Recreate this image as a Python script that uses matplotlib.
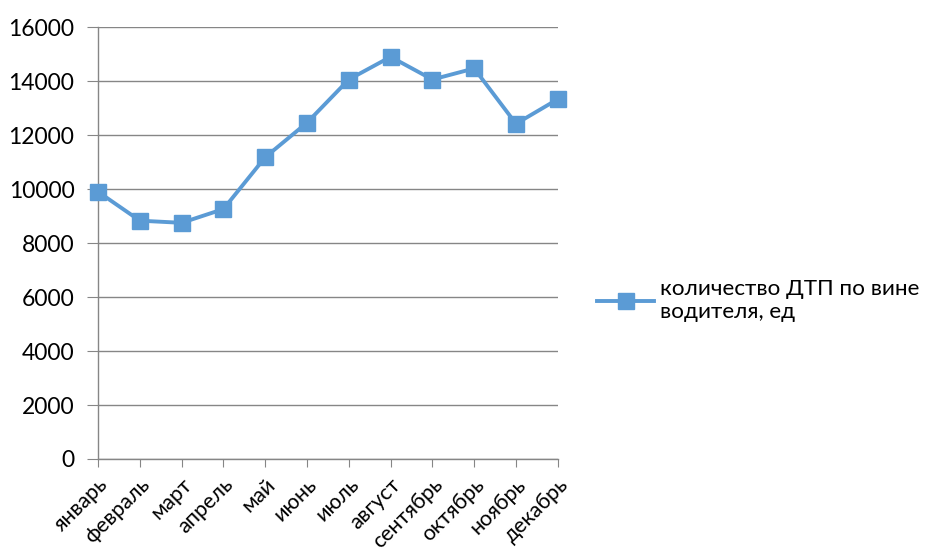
import matplotlib.pyplot as plt

plt.rcParams['font.family'] = ['Lato', 'DejaVu Sans']

# Месяцы и количество ДТП
months = ['январь', 'февраль', 'март', 'апрель', 'май', 'июнь',
          'июль', 'август', 'сентябрь', 'октябрь', 'ноябрь', 'декабрь']
accidents = [9900, 8830, 8750, 9260, 11180, 12460,
             14060, 14900, 14060, 14470, 12420, 13330]
series_name = 'количество ДТП по вине\nводителя, ед'
y_ticks = [0, 2000, 4000, 6000, 8000, 10000, 12000, 14000, 16000]

fig = plt.figure(figsize=(9.25, 5.54), dpi=100)
ax = fig.add_axes([0.106, 0.1715, 0.497, 0.7795])

x = list(range(len(months)))
ax.plot(x, accidents, color='#5B9BD5', linewidth=2.8, marker='s',
        markersize=11, clip_on=False, label=series_name, zorder=3)

ax.set_xlim(0, len(months) - 1)
ax.set_ylim(0, 16000)
ax.set_yticks(y_ticks)
ax.set_xticks(x)
ax.set_xticklabels(months, rotation=45, ha='right', va='top',
                   rotation_mode='anchor', fontsize=15.5)
ax.tick_params(axis='y', labelsize=16.5, length=8, color='#868686', pad=9)
ax.tick_params(axis='x', length=6, color='#868686', pad=5)

ax.grid(axis='y', color='#868686', linewidth=1)
ax.set_axisbelow(True)
for side in ['top', 'right']:
    ax.spines[side].set_visible(False)
for side in ['left', 'bottom']:
    ax.spines[side].set_color('#868686')
    ax.spines[side].set_linewidth(1)

fig.legend(loc='center left', bbox_to_anchor=(0.624, 0.457), frameon=False,
           fontsize=16.2, handlelength=2.5, handletextpad=0.3,
           labelspacing=0.2)

fig.savefig('out.png', dpi=100)
